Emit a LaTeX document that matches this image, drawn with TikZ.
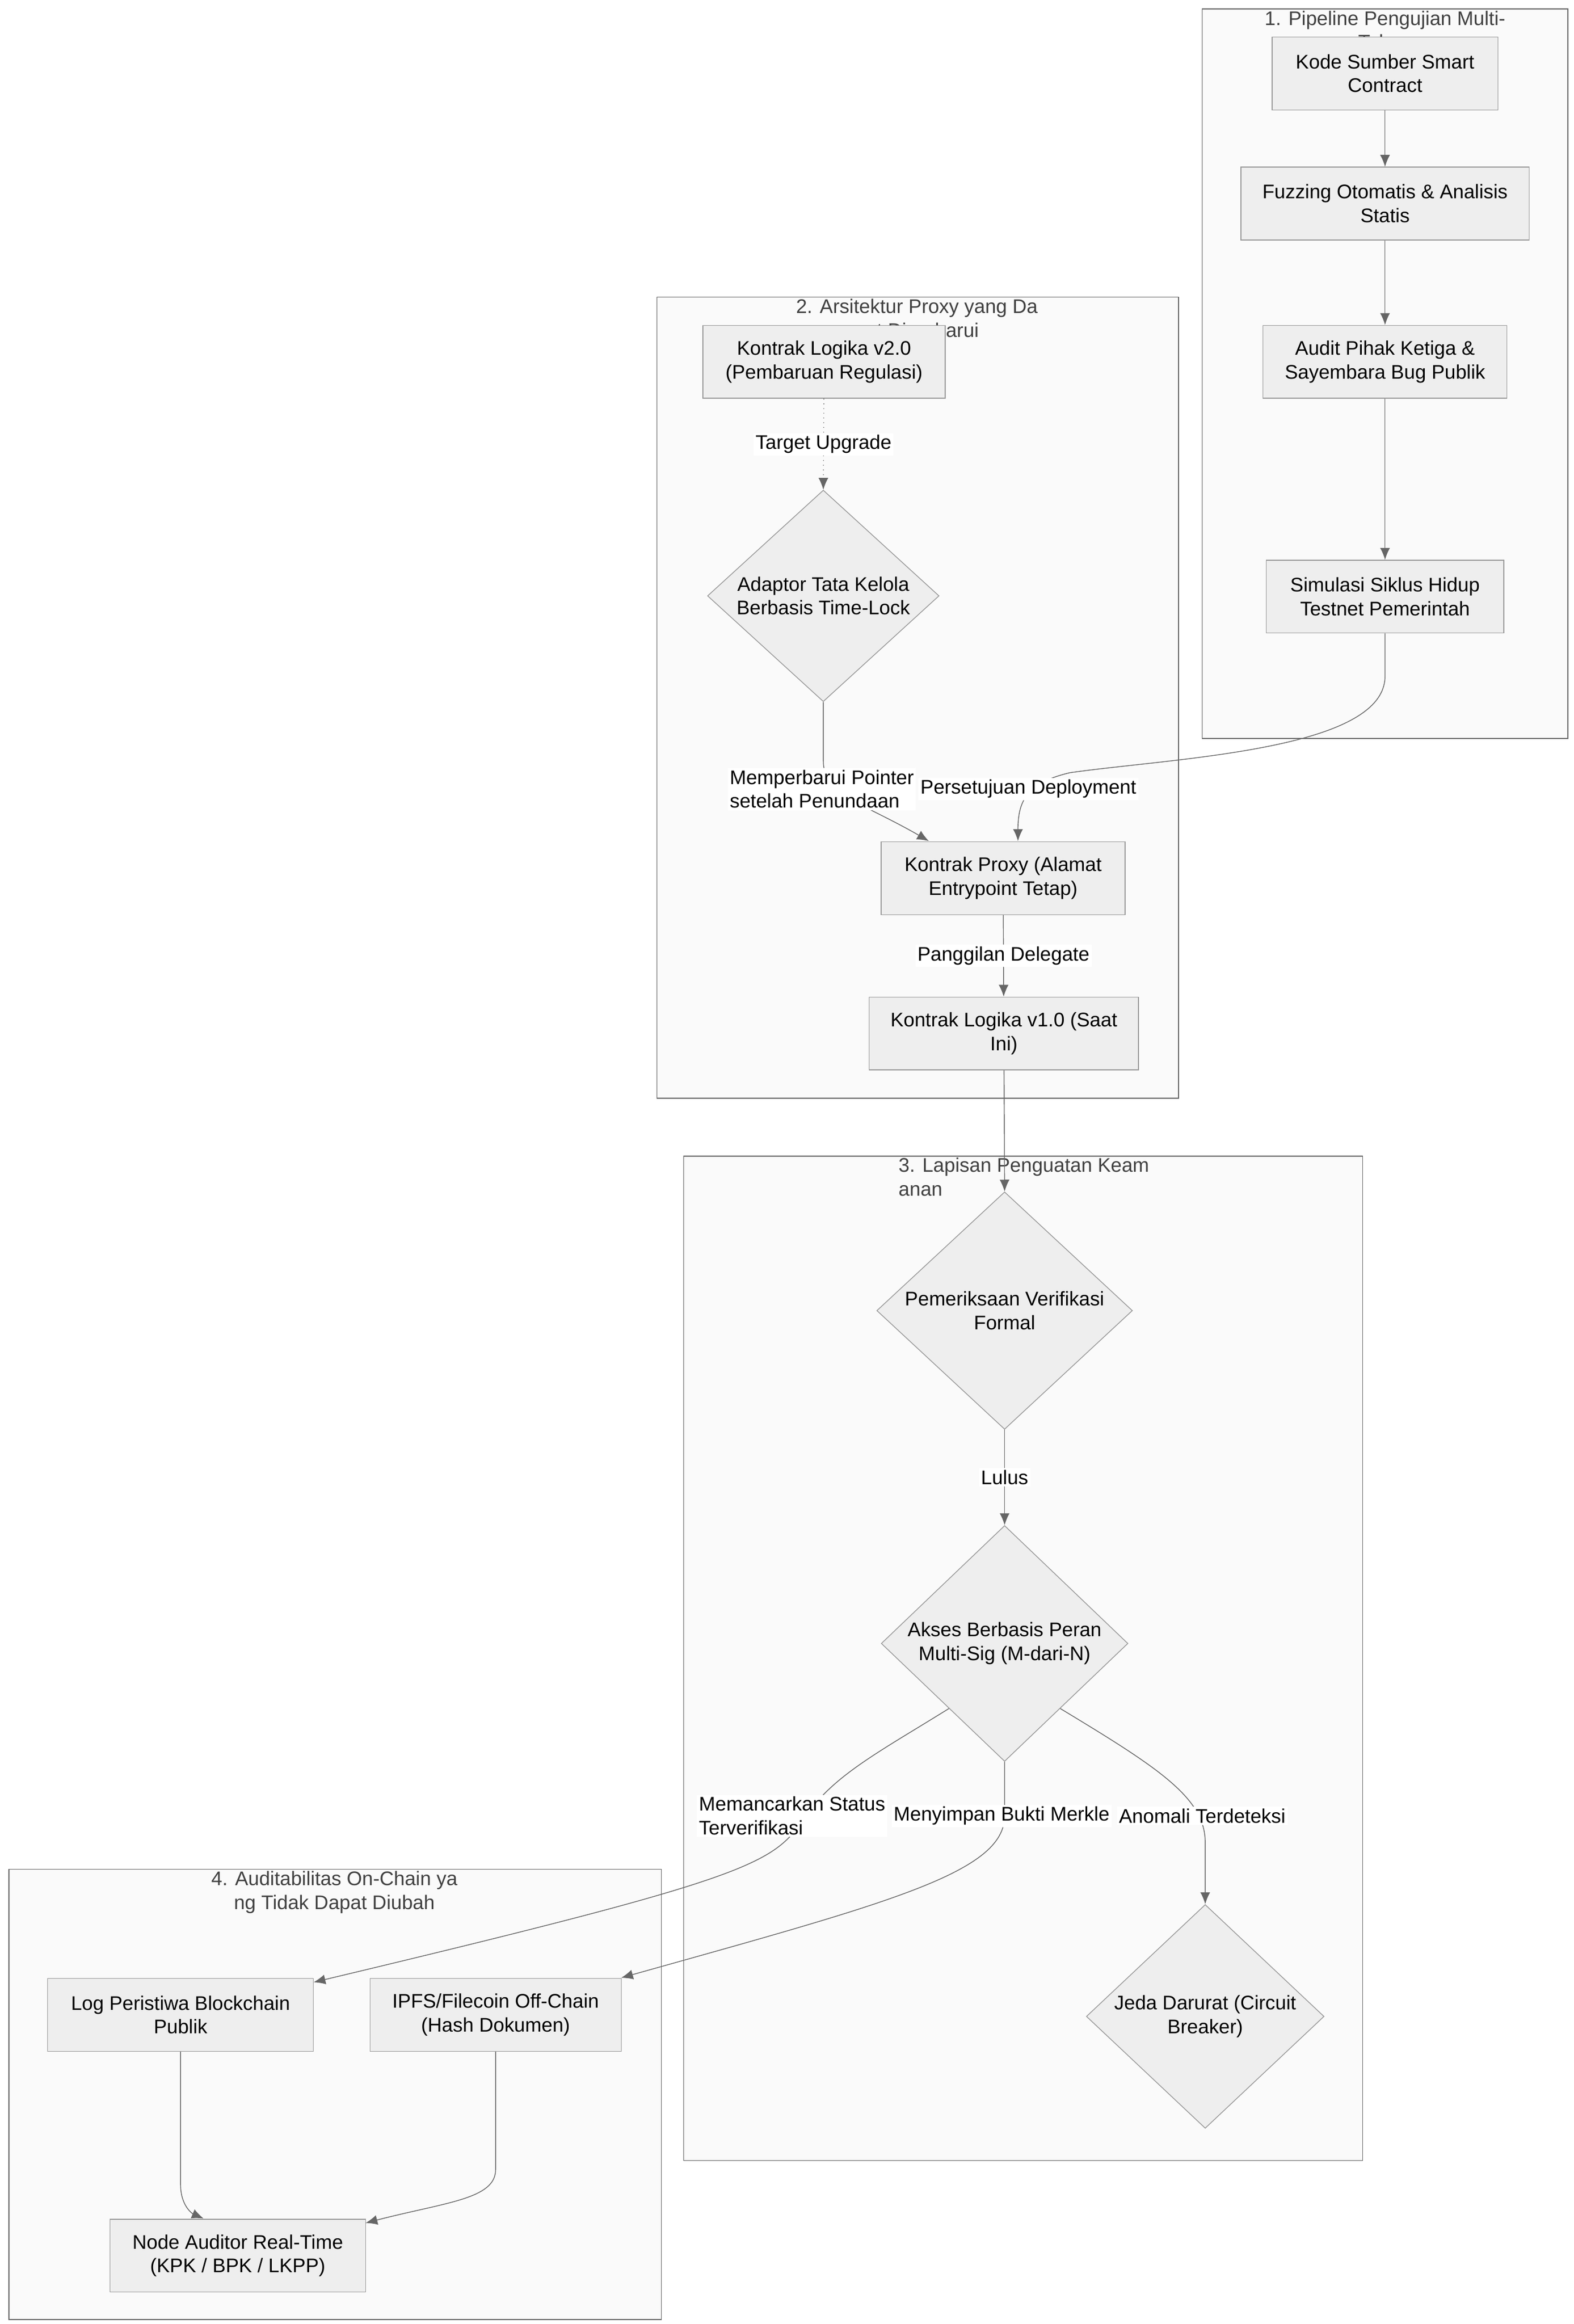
\documentclass[tikz,border=0pt]{standalone}
\usepackage{fontspec}
\setmainfont{Liberation Sans}
\usetikzlibrary{shapes.geometric,positioning,arrows.meta,calc}
\definecolor{boxfill}{HTML}{EEEEEE}
\definecolor{boxline}{HTML}{999999}
\definecolor{grpfill}{HTML}{FAFAFA}
\definecolor{grpline}{HTML}{666666}
\tikzset{
    stepnode/.style={
        draw=boxline,fill=boxfill,align=center,inner sep=0pt,minimum height=1.3cm
    },
    decnode/.style={
        diamond,draw=boxline,fill=boxfill,align=center,inner sep=0pt,aspect=1
    },
    grpbox/.style={
        draw=grpline,fill=grpfill
    },
    grptitle/.style={
        text=black!75,align=center,anchor=north,inner sep=0pt
    },
    flow/.style={
        draw=grpline,-{Latex[length=6pt,width=5pt]}
    },
    elabel/.style={
        fill=white,inner sep=1pt,align=left
    }
}

\begin{document}
\begin{tikzpicture}[x=0.0265cm,y=-0.0265cm,font=\fontsize{10}{12}\selectfont]
\useasboundingbox (0,0) rectangle (1059,1564);
% groups
\draw[grpbox] (809,6) rectangle (1055,497);
\node[grptitle] (g1) at (932,7) {1. Pipeline Pengujian Multi-\\Tahap};
\draw[grpbox] (442,200) rectangle (793,739);
\node[grptitle] (g2) at (617,201) {2. Arsitektur Proxy yang Da\\pat Diperbarui};
\draw[grpbox] (460,778) rectangle (917,1454);
\node[grptitle,align=left] (g3) at (689,779) {3. Lapisan Penguatan Keam\\anan};
\draw[grpbox] (6,1258) rectangle (445,1561);
\node[grptitle] (g4) at (225,1259) {4. Auditabilitas On-Chain ya\\ng Tidak Dapat Diubah};
% pipeline
\node[stepnode,minimum width=4.03cm] (kode) at (932,49.5) {Kode Sumber Smart\\Contract};
\node[stepnode,minimum width=5.14cm] (fuzz) at (932,137) {Fuzzing Otomatis \& Analisis\\Statis};
\node[stepnode,minimum width=4.35cm] (audit) at (932,243.5) {Audit Pihak Ketiga \&\\Sayembara Bug Publik};
\node[stepnode,minimum width=4.24cm] (simul) at (932,401.5) {Simulasi Siklus Hidup\\Testnet Pemerintah};
% proxy
\node[stepnode,minimum width=4.32cm] (logv2) at (554.5,243.5) {Kontrak Logika v2.0\\(Pembaruan Regulasi)};
\node[decnode,minimum width=4.13cm] (tlock) at (554,401) {Adaptor Tata Kelola\\Berbasis Time-Lock};
\node[stepnode,minimum width=4.35cm] (proxy) at (675,591) {Kontrak Proxy (Alamat\\Entrypoint Tetap)};
\node[stepnode,minimum width=4.8cm] (logv1) at (675.5,695.5) {Kontrak Logika v1.0 (Saat\\Ini)};
% security
\node[decnode,minimum width=4.56cm] (formal) at (676,882) {Pemeriksaan Verifikasi\\Formal};
\node[decnode,minimum width=4.4cm] (msig) at (676,1106) {Akses Berbasis Peran\\Multi-Sig (M-dari-N)};
\node[decnode,minimum width=4.24cm] (jeda) at (811,1357) {Jeda Darurat (Circuit\\Breaker)};
% audit trail
\node[stepnode,minimum width=4.74cm] (evlog) at (121.5,1356) {Log Peristiwa Blockchain\\Publik};
\node[stepnode,minimum width=4.48cm] (ipfs) at (333.5,1356) {IPFS/Filecoin Off-Chain\\(Hash Dokumen)};
\node[stepnode,minimum width=4.56cm] (audnode) at (160,1518) {Node Auditor Real-Time\\(KPK / BPK / LKPP)};
% edges
\draw[flow] (kode) -- (fuzz);
\draw[flow] (fuzz) -- (audit);
\draw[flow] (audit) -- (simul);
\draw[flow] (simul.south) -- (932,455) .. controls (932,505) and (790,510) .. (720,520)
    .. controls (690,527) and (685,540) .. (685,566);
\node[elabel] (lbl0) at (692,531) {Persetujuan Deployment};
\draw[flow,dotted] (logv2) -- (tlock.north) node[elabel,midway] {Target Upgrade};
\draw[flow] (tlock.south) -- (554,512) .. controls (554,535) and (580,540) .. (625,566);
\node[elabel] (lbl1) at (553,531) {Memperbarui Pointer\\setelah Penundaan};
\draw[flow] (proxy) -- (logv1) node[elabel,midway] {Panggilan Delegate};
\draw[flow] (logv1) -- (formal.north);
\draw[flow] (formal.south) -- (msig.north) node[elabel,midway] {Lulus};
\coordinate (ms1) at ($(msig.west)!0.55!(msig.south)$);
\coordinate (ms2) at ($(msig.east)!0.55!(msig.south)$);
\draw[flow] (ms1) .. controls (590,1180) and (560,1195) .. (540,1225)
    .. controls (520,1255) and (500,1265) .. (211,1334);
\node[elabel] (lbl2) at (533,1222) {Memancarkan Status\\Terverifikasi};
\draw[flow] (msig.south) -- (676,1222) .. controls (676,1260) and (600,1280) .. (418,1331);
\node[elabel] (lbl3) at (674,1222) {Menyimpan Bukti Merkle};
\draw[flow] (ms2) .. controls (780,1190) and (811,1210) .. (811,1240) -- (jeda.north);
\node[elabel] (lbl4) at (809,1222) {Anomali Terdeteksi};
\draw[flow] (evlog.south) -- (121.5,1470) .. controls (121.5,1485) and (130,1490) .. (137,1493);
\draw[flow] (ipfs.south) -- (333.5,1460) .. controls (333.5,1480) and (300,1482) .. (246,1496);
\end{tikzpicture}
\end{document}
